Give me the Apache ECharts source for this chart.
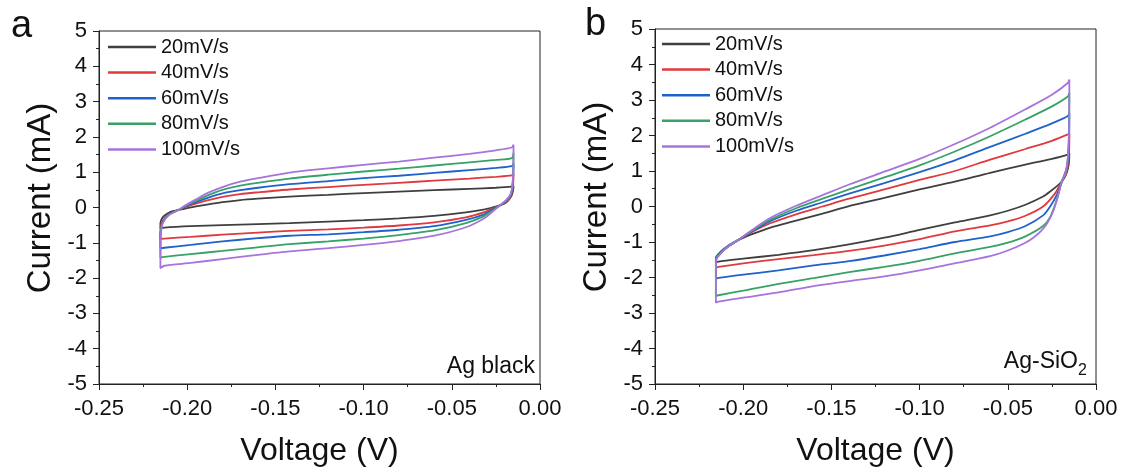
<!DOCTYPE html>
<html>
<head>
<meta charset="utf-8">
<script src="https://cdn.jsdelivr.net/npm/echarts@6/dist/echarts.min.js"></script>
<style>html,body{margin:0;padding:0;background:#fff}#c{width:1126px;height:472px}</style>
</head>
<body>
<div id="c"></div>
<script>
const rates = ['20mV/s', '40mV/s', '60mV/s', '80mV/s', '100mV/s'];
const panelLabels = ['a', 'b'];
const sampleNames = ['Ag black', 'Ag-SiO', '2'];

// Panel a: Ag black, [V, mA]
const agBlack20 = [[-0.205,-0.07],[-0.200,-0.02],[-0.195,0.03],[-0.188,0.09],[-0.180,0.15],[-0.170,0.21],[-0.160,0.25],[-0.142,0.31],[-0.120,0.36],[-0.100,0.41],[-0.080,0.45],[-0.060,0.49],[-0.040,0.53],[-0.025,0.56],[-0.016,0.59],
 [-0.015,0.61],[-0.0152,0.50],[-0.0158,0.38],[-0.0170,0.26],[-0.0190,0.15],[-0.0227,0.06],
 [-0.027,0.00],[-0.032,-0.06],[-0.042,-0.14],[-0.060,-0.24],[-0.080,-0.31],[-0.100,-0.36],[-0.120,-0.40],[-0.142,-0.44],[-0.160,-0.47],[-0.180,-0.50],[-0.198,-0.53],[-0.213,-0.57],[-0.2152,-0.59],
 [-0.2152,-0.45],[-0.2145,-0.33],[-0.2132,-0.24],[-0.2097,-0.13],[-0.205,-0.07]];
const agBlack40 = [[-0.205,-0.07],[-0.200,0.03],[-0.195,0.11],[-0.188,0.21],[-0.180,0.30],[-0.170,0.38],[-0.160,0.43],[-0.142,0.51],[-0.120,0.58],[-0.100,0.64],[-0.080,0.70],[-0.060,0.76],[-0.040,0.82],[-0.025,0.87],[-0.016,0.91],
 [-0.015,0.96],[-0.0151,0.75],[-0.0155,0.52],[-0.0163,0.36],[-0.0180,0.20],[-0.0227,0.06],
 [-0.027,-0.03],[-0.032,-0.14],[-0.042,-0.28],[-0.060,-0.42],[-0.080,-0.51],[-0.100,-0.57],[-0.120,-0.62],[-0.142,-0.66],[-0.160,-0.71],[-0.180,-0.77],[-0.198,-0.83],[-0.213,-0.88],[-0.2152,-0.89],
 [-0.2152,-0.65],[-0.2148,-0.50],[-0.2137,-0.36],[-0.2105,-0.20],[-0.205,-0.07]];
const agBlack60 = [[-0.205,-0.07],[-0.200,0.05],[-0.195,0.15],[-0.188,0.28],[-0.180,0.40],[-0.170,0.49],[-0.160,0.56],[-0.142,0.66],[-0.120,0.75],[-0.100,0.83],[-0.080,0.90],[-0.060,0.98],[-0.040,1.06],[-0.025,1.12],[-0.016,1.17],
 [-0.015,1.24],[-0.0151,0.95],[-0.0155,0.65],[-0.0162,0.42],[-0.0178,0.24],[-0.0227,0.06],
 [-0.027,-0.06],[-0.032,-0.20],[-0.042,-0.35],[-0.060,-0.53],[-0.080,-0.63],[-0.100,-0.70],[-0.120,-0.76],[-0.142,-0.80],[-0.160,-0.87],[-0.180,-0.96],[-0.198,-1.06],[-0.213,-1.14],[-0.2152,-1.16],
 [-0.2152,-0.80],[-0.2148,-0.58],[-0.2138,-0.40],[-0.2106,-0.21],[-0.205,-0.07]];
const agBlack80 = [[-0.205,-0.07],[-0.200,0.07],[-0.195,0.19],[-0.188,0.35],[-0.180,0.50],[-0.170,0.62],[-0.160,0.70],[-0.142,0.82],[-0.120,0.93],[-0.100,1.02],[-0.080,1.10],[-0.060,1.19],[-0.040,1.28],[-0.025,1.35],[-0.016,1.40],
 [-0.015,1.55],[-0.0151,1.10],[-0.0154,0.75],[-0.0160,0.48],[-0.0176,0.27],[-0.0227,0.06],
 [-0.027,-0.09],[-0.032,-0.25],[-0.042,-0.44],[-0.060,-0.65],[-0.080,-0.78],[-0.100,-0.88],[-0.120,-0.96],[-0.142,-1.04],[-0.160,-1.13],[-0.180,-1.23],[-0.198,-1.32],[-0.213,-1.40],[-0.2152,-1.42],
 [-0.2152,-0.90],[-0.2149,-0.64],[-0.2139,-0.43],[-0.2107,-0.22],[-0.205,-0.07]];
const agBlack100 = [[-0.205,-0.07],[-0.200,0.09],[-0.195,0.23],[-0.188,0.42],[-0.180,0.58],[-0.170,0.73],[-0.160,0.83],[-0.142,0.99],[-0.120,1.11],[-0.100,1.21],[-0.080,1.30],[-0.060,1.41],[-0.040,1.52],[-0.025,1.62],[-0.016,1.70],
 [-0.015,1.78],[-0.0151,1.20],[-0.0154,0.80],[-0.0158,0.55],[-0.0167,0.37],[-0.0193,0.21],[-0.0227,0.06],
 [-0.027,-0.12],[-0.032,-0.32],[-0.042,-0.56],[-0.060,-0.80],[-0.080,-0.95],[-0.100,-1.06],[-0.120,-1.15],[-0.142,-1.24],[-0.160,-1.34],[-0.180,-1.46],[-0.198,-1.57],[-0.213,-1.65],[-0.2152,-1.72],
 [-0.2152,-1.00],[-0.2149,-0.72],[-0.2139,-0.45],[-0.2107,-0.22],[-0.205,-0.07]];

// Panel b: Ag-SiO2, [V, mA]
const agSiO20 = [[-0.2027,-0.94],[-0.195,-0.78],[-0.185,-0.60],[-0.170,-0.40],[-0.155,-0.20],[-0.140,0.01],[-0.120,0.24],[-0.100,0.48],[-0.080,0.70],[-0.060,0.95],[-0.040,1.18],[-0.025,1.34],[-0.016,1.46],
 [-0.0151,1.50],[-0.0153,1.25],[-0.0160,1.05],[-0.0172,0.88],[-0.0194,0.70],
 [-0.022,0.58],[-0.026,0.42],[-0.030,0.28],[-0.040,0.05],[-0.050,-0.12],[-0.060,-0.25],[-0.080,-0.45],[-0.100,-0.66],[-0.120,-0.88],[-0.140,-1.07],[-0.160,-1.23],[-0.180,-1.36],[-0.200,-1.47],[-0.214,-1.55],[-0.2155,-1.57],
 [-0.2155,-1.45],[-0.2148,-1.38],[-0.2123,-1.28],[-0.2084,-1.12],[-0.2027,-0.94]];
const agSiO40 = [[-0.2027,-0.94],[-0.195,-0.72],[-0.185,-0.48],[-0.170,-0.22],[-0.155,0.00],[-0.140,0.22],[-0.120,0.48],[-0.100,0.75],[-0.080,1.00],[-0.060,1.32],[-0.040,1.62],[-0.025,1.85],[-0.016,2.03],
 [-0.0151,2.06],[-0.0152,1.60],[-0.0157,1.25],[-0.0168,0.95],[-0.0194,0.70],
 [-0.0232,0.37],[-0.030,0.00],[-0.040,-0.26],[-0.050,-0.42],[-0.060,-0.53],[-0.080,-0.70],[-0.100,-0.92],[-0.120,-1.10],[-0.140,-1.25],[-0.160,-1.37],[-0.180,-1.48],[-0.200,-1.60],[-0.214,-1.70],[-0.2155,-1.72],
 [-0.2155,-1.50],[-0.2148,-1.40],[-0.2123,-1.29],[-0.2084,-1.12],[-0.2027,-0.94]];
const agSiO60 = [[-0.2027,-0.94],[-0.195,-0.70],[-0.185,-0.42],[-0.170,-0.12],[-0.155,0.12],[-0.140,0.36],[-0.120,0.66],[-0.100,0.97],[-0.080,1.30],[-0.060,1.68],[-0.040,2.05],[-0.025,2.34],[-0.016,2.55],
 [-0.0151,2.64],[-0.0152,2.00],[-0.0156,1.50],[-0.0165,1.10],[-0.0194,0.70],
 [-0.022,0.35],[-0.026,0.00],[-0.030,-0.25],[-0.040,-0.55],[-0.050,-0.72],[-0.060,-0.84],[-0.080,-1.00],[-0.100,-1.20],[-0.120,-1.38],[-0.140,-1.54],[-0.160,-1.66],[-0.180,-1.80],[-0.200,-1.92],[-0.214,-2.01],[-0.2155,-2.03],
 [-0.2155,-1.60],[-0.2150,-1.42],[-0.2128,-1.27],[-0.2088,-1.11],[-0.2027,-0.94]];
const agSiO80 = [[-0.2027,-0.94],[-0.195,-0.68],[-0.185,-0.38],[-0.170,-0.05],[-0.155,0.22],[-0.140,0.48],[-0.120,0.82],[-0.100,1.16],[-0.080,1.55],[-0.060,1.98],[-0.040,2.45],[-0.025,2.82],[-0.016,3.10],
 [-0.0151,3.20],[-0.0152,2.40],[-0.0155,1.75],[-0.0163,1.20],[-0.0175,0.90],[-0.0194,0.70],
 [-0.0223,0.18],[-0.026,-0.30],[-0.030,-0.55],[-0.040,-0.84],[-0.050,-1.02],[-0.060,-1.14],[-0.080,-1.32],[-0.100,-1.53],[-0.120,-1.70],[-0.140,-1.85],[-0.160,-2.02],[-0.180,-2.18],[-0.200,-2.37],[-0.214,-2.50],[-0.2155,-2.52],
 [-0.2155,-1.80],[-0.2152,-1.45],[-0.2123,-1.29],[-0.2084,-1.12],[-0.2027,-0.94]];
const agSiO100 = [[-0.2027,-0.94],[-0.195,-0.66],[-0.185,-0.33],[-0.170,0.02],[-0.155,0.32],[-0.140,0.62],[-0.120,0.98],[-0.100,1.34],[-0.080,1.76],[-0.060,2.22],[-0.040,2.74],[-0.025,3.15],[-0.016,3.48],
 [-0.0151,3.58],[-0.0152,2.60],[-0.0155,1.80],[-0.0162,1.25],[-0.0175,0.92],[-0.0194,0.70],
 [-0.0215,0.30],[-0.024,-0.10],[-0.027,-0.42],[-0.030,-0.63],[-0.035,-0.86],[-0.040,-1.02],[-0.050,-1.24],[-0.060,-1.40],[-0.080,-1.60],[-0.100,-1.80],[-0.120,-1.97],[-0.140,-2.10],[-0.160,-2.24],[-0.180,-2.42],[-0.200,-2.57],[-0.214,-2.68],[-0.2155,-2.71],
 [-0.2155,-1.90],[-0.2152,-1.50],[-0.2123,-1.30],[-0.2084,-1.12],[-0.2027,-0.94]];

const panelA = [agBlack20, agBlack40, agBlack60, agBlack80, agBlack100];
const panelB = [agSiO20, agSiO40, agSiO60, agSiO80, agSiO100];

const colors = ['#3f3f3f', '#e0393e', '#1f62cc', '#37a265', '#a773dc'];
const FONT = '"Liberation Sans", Arial, Helvetica, sans-serif';
const TXT = '#111';

const chart = echarts.init(document.getElementById('c'), null, {renderer: 'canvas'});

function xAx(grid) {
  return {
    type: 'value', gridIndex: grid, min: -0.25, max: 0, interval: 0.05,
    name: 'Voltage (V)', nameLocation: 'middle', nameGap: 51,
    nameTextStyle: {fontFamily: FONT, fontSize: 32, color: TXT},
    axisLine: {show: true, onZero: false, lineStyle: {color: '#222', width: 1}},
    axisTick: {show: true, inside: false, length: 6, lineStyle: {color: '#222'}},
    minorTick: {show: true, splitNumber: 2, length: 3, lineStyle: {color: '#222'}},
    splitLine: {show: false},
    axisLabel: {fontFamily: FONT, fontSize: 22, color: TXT, margin: 14,
      formatter: v => v.toFixed(2)}
  };
}
function yAx(grid) {
  return {
    type: 'value', gridIndex: grid, min: -5, max: 5, interval: 1,
    name: 'Current (mA)', nameLocation: 'middle', nameGap: 42,
    nameTextStyle: {fontFamily: FONT, fontSize: 33, color: TXT, padding: [0, 0, 0, 19]},
    axisLine: {show: true, onZero: false, lineStyle: {color: '#222', width: 1}},
    axisTick: {show: true, inside: false, length: 6, lineStyle: {color: '#222'}},
    minorTick: {show: true, splitNumber: 2, length: 3, lineStyle: {color: '#222'}},
    splitLine: {show: false},
    axisLabel: {fontFamily: FONT, fontSize: 22, color: TXT, margin: 12}
  };
}

const series = [];
[panelA, panelB].forEach((panel, gi) => {
  panel.forEach((data, i) => {
    series.push({
      type: 'line', name: rates[i], xAxisIndex: gi, yAxisIndex: gi,
      data: data, showSymbol: false, symbol: 'none', smooth: 0.25,
      lineStyle: {color: colors[i], width: 1.8}, itemStyle: {color: colors[i]},
      animation: false, silent: true, z: 2 + i
    });
  });
});

function legend(left, top) {
  return {
    data: rates.map(r => ({name: r, icon: 'rect'})), orient: 'vertical', left: left, top: top,
    padding: 0, itemWidth: 48, itemHeight: 2.5, itemGap: 5.6,
    textStyle: {fontFamily: FONT, fontSize: 20, color: TXT, lineHeight: 20},
    selectedMode: false
  };
}

chart.setOption({
  backgroundColor: '#fff',
  animation: false,
  grid: [
    {left: 99, top: 31, width: 441, height: 354, show: true, borderColor: '#222', borderWidth: 1, backgroundColor: 'transparent'},
    {left: 655, top: 29, width: 441, height: 355, show: true, borderColor: '#222', borderWidth: 1, backgroundColor: 'transparent'}
  ],
  xAxis: [xAx(0), xAx(1)],
  yAxis: [yAx(0), yAx(1)],
  legend: [legend(108, 37), legend(662, 34)],
  graphic: [
    {type: 'text', left: 11, top: 8, style: {text: panelLabels[0], fontFamily: FONT, fontSize: 38, fill: TXT}},
    {type: 'text', left: 585, top: 6, style: {text: panelLabels[1], fontFamily: FONT, fontSize: 38, fill: TXT}},
    {type: 'text', x: 535, y: 367, style: {text: sampleNames[0], fontFamily: FONT, fontSize: 23, fill: TXT, align: 'right', verticalAlign: 'middle'}},
    {type: 'text', x: 1078, y: 362, style: {text: sampleNames[1], fontFamily: FONT, fontSize: 23, fill: TXT, align: 'right', verticalAlign: 'middle'}},
    {type: 'text', x: 1078, y: 371, style: {text: sampleNames[2], fontFamily: FONT, fontSize: 16, fill: TXT, align: 'left', verticalAlign: 'middle'}}
  ],
  series: series
});
</script>
</body>
</html>
